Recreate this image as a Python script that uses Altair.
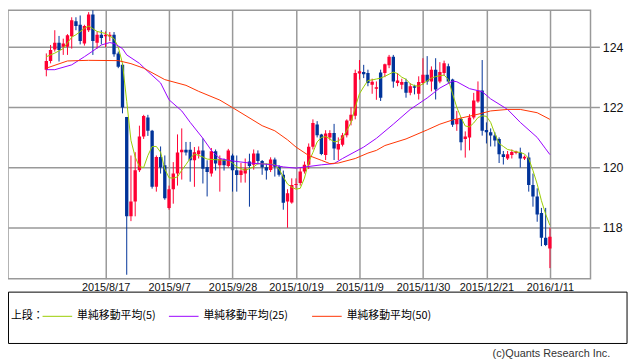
import altair as alt
import pandas as pd

# ---------------- data ----------------
opens = [123.25,123.54,123.92,124.14,124.01,124.01,124.36,124.86,124.74,124.12,
         124.56,125.08,124.14,124.41,124.36,124.35,124.41,123.79,123.41,121.68,
         118.38,118.87,119.91,121.03,121.66,121.22,119.36,120.35,120.08,118.66,
         119.28,119.80,120.51,120.59,120.59,120.24,120.44,120.57,120.02,119.80,
         120.54,120.08,120.26,120.05,120.40,119.91,119.75,119.80,120.20,120.09,
         120.47,120.22,120.01,119.92,120.27,120.03,119.76,118.87,118.84,119.42,
         119.49,119.87,120.09,120.69,121.43,121.10,120.42,121.00,121.15,120.60,
         120.76,121.07,121.55,121.72,123.12,123.17,123.14,122.75,122.62,123.16,
         123.14,123.40,123.68,122.81,122.75,122.84,122.48,122.70,122.45,122.81,
         123.08,122.86,123.25,122.86,123.14,123.36,122.92,121.44,121.61,120.95,
         121.00,121.66,122.19,122.56,121.25,121.17,121.06,120.95,120.44,120.30,
         120.42,120.48,120.50,120.30,120.33,119.42,119.04,118.49,117.67,117.31]
highs = [123.79,124.07,124.56,124.37,124.28,124.43,124.99,124.99,125.05,124.74,
         125.16,125.29,124.52,124.56,124.52,124.50,124.50,123.85,123.46,121.68,
         120.40,120.51,121.39,121.75,121.75,121.25,120.40,120.70,120.40,119.40,
         120.18,121.10,121.30,120.85,120.85,120.68,120.70,120.97,120.24,120.65,
         120.60,120.40,120.30,120.62,120.46,120.40,120.15,120.30,120.46,120.60,
         120.57,120.25,120.13,120.34,120.33,120.08,119.90,119.28,119.64,119.64,
         119.98,120.20,120.80,121.60,121.54,121.12,121.24,121.24,121.45,121.00,
         121.15,121.60,122.00,123.25,123.57,123.41,123.25,122.95,122.86,123.25,
         123.45,123.74,123.74,123.14,122.95,122.95,122.80,122.75,123.03,123.63,
         123.70,123.36,123.63,123.50,123.55,123.45,122.95,121.88,121.66,121.20,
         121.77,122.48,122.86,123.57,121.50,121.30,121.17,121.00,120.55,120.55,
         120.60,120.56,120.66,120.40,120.50,119.80,119.31,118.66,118.66,118.00]
lows = [123.03,123.46,123.85,123.52,123.74,123.74,123.95,124.56,124.09,124.05,
        124.50,123.74,123.95,124.09,124.00,124.20,123.68,123.30,121.80,116.44,
        118.22,118.38,119.85,120.95,121.05,119.30,119.20,119.80,118.93,118.60,
        118.80,119.40,119.60,120.40,119.53,119.36,120.30,119.47,119.04,119.70,
        119.90,119.20,119.90,120.00,119.20,119.20,119.50,119.50,118.70,119.93,
        120.10,119.76,119.60,119.85,119.70,119.70,118.60,118.00,118.80,119.30,
        119.40,119.80,119.95,120.60,121.00,120.41,120.25,120.90,120.25,120.25,
        120.70,121.00,121.40,121.60,122.92,122.97,122.70,122.45,122.25,122.21,
        123.00,123.30,122.65,122.70,122.60,122.32,122.40,122.43,122.26,122.75,
        122.75,122.53,122.26,122.80,123.05,122.80,121.35,121.22,120.57,120.33,
        120.57,121.60,122.15,121.06,120.80,120.70,120.70,120.15,120.10,120.25,
        120.30,120.44,120.00,120.25,119.20,118.70,118.20,117.39,117.39,116.66]
closes = [123.54,123.90,124.14,123.90,124.12,124.39,124.89,124.70,124.20,124.70,
          125.08,124.20,124.41,124.30,124.41,124.41,123.76,123.35,121.99,118.38,
          118.87,119.91,121.03,121.71,121.22,119.36,120.35,120.00,118.98,119.28,
          119.80,120.50,120.59,120.50,120.24,120.51,120.57,119.96,119.85,120.54,
          120.13,120.29,120.08,120.57,119.91,119.75,119.90,119.97,120.05,120.47,
          120.22,120.01,119.90,120.27,120.03,119.76,118.83,119.15,119.42,119.45,
          119.87,120.09,120.69,121.48,121.07,120.45,121.13,121.15,120.63,120.78,
          121.07,121.56,121.75,123.14,123.20,123.10,122.81,122.85,122.67,122.32,
          123.43,123.68,122.86,122.89,122.84,122.48,122.70,122.65,122.84,123.08,
          122.86,123.25,122.59,123.17,123.46,122.86,121.42,121.61,120.84,121.03,
          121.66,122.23,122.56,121.22,121.17,121.06,120.90,120.44,120.35,120.44,
          120.52,120.53,120.30,120.36,119.42,119.04,118.44,117.67,117.43,117.70]

ma5_idx = [0,2,4,6,7,9,10,11,12,14,15,16,17,18,19,20,21,22,23,24,25,26,27,28,29,30,31,32,33,34,
           35,36,37,38,40,43,44,45,47,49,50,52,54,55,56,57,58,59,60,61,62,63,64,65,66,67,68,69,70,71,
           72,73,74,75,76,77,78,79,80,81,82,83,84,85,86,87,88,89,90,91,92,93,94,95,96,97,98,99,100,101,
           102,103,104,105,106,107,108,109,110,111,112,113,114,115,116,117,118,119]
ma5_val = [123.68,123.80,123.95,124.33,124.41,124.62,124.70,124.61,124.52,124.45,124.36,124.28,124.00,123.45,122.20,120.90,120.35,120.03,120.00,120.40,
           120.70,120.70,120.51,119.95,119.66,119.65,119.69,119.91,120.10,120.30,120.45,120.40,120.35,120.28,120.26,120.24,120.15,120.02,119.91,120.02,
           120.13,120.12,120.10,119.95,119.69,119.45,119.35,119.28,119.31,119.65,120.18,120.50,120.85,121.00,121.03,120.95,120.85,120.88,121.00,121.22,
           121.50,122.00,122.45,122.68,122.89,122.91,122.94,122.97,123.03,123.10,123.17,123.12,123.00,122.93,122.78,122.72,122.70,122.78,122.88,122.97,
           123.02,123.05,123.07,122.92,122.45,122.00,121.66,121.38,121.35,121.48,121.66,121.72,121.70,121.50,121.12,120.80,120.70,120.60,120.57,120.52,
           120.50,120.45,120.30,119.90,119.45,118.90,118.45,118.08]

ma25_idx = [0,2,6,9,11,13,15,16,18,19,22,24,27,29,32,34,37,39,41,43,45,48,53,56,59,65,68,70,75,78,
            82,86,90,93,96,97,100,103,105,109,112,116,118,119]
ma25_val = [123.25,123.25,123.41,123.68,123.87,124.07,124.15,124.12,123.95,123.74,123.46,123.19,122.81,122.25,121.88,121.50,120.97,120.57,120.30,120.24,
            120.20,120.15,120.10,120.02,119.98,120.09,120.13,120.30,120.68,120.97,121.44,121.93,122.31,122.64,122.87,122.85,122.62,122.52,122.28,121.93,
            121.50,121.00,120.62,120.43]

ma50_idx = [0,5,10,17,20,23,28,33,36,41,44,51,54,57,59,62,65,67,69,73,76,78,80,85,90,93,96,102,105,109,112,116,119]
ma50_val = [123.30,123.54,123.56,123.55,123.45,123.30,122.92,122.73,122.53,122.24,121.99,121.39,121.22,120.92,120.68,120.40,120.24,120.13,120.15,120.30,
            120.48,120.57,120.73,120.95,121.25,121.44,121.58,121.77,121.88,121.93,121.93,121.82,121.60]

tick_idx = [14, 29, 44, 59, 74, 89, 104, 119]
tick_labels = ["2015/8/17", "2015/9/7", "2015/9/28", "2015/10/19",
               "2015/11/9", "2015/11/30", "2015/12/21", "2016/1/11"]
y_ticks = [118, 120, 122, 124]

legend_head = "上段："
legend_labels = ["単純移動平均(5)", "単純移動平均(25)", "単純移動平均(50)"]
credit = "(c)Quants Research Inc."

# ---------------- styling ----------------
RED, BLUE = "#FF0033", "#003399"
GREEN, PURPLE, ORANGE = "#99CC00", "#9900FF", "#FF3300"
GRID = "#999999"
W, H = 590, 272

df = pd.DataFrame({"i": list(range(len(opens))), "open": opens, "high": highs,
                   "low": lows, "close": closes})

xscale = alt.Scale(domain=[-7.89, 127.43], nice=False, zero=False)
yscale = alt.Scale(domain=[116.305, 125.223], nice=False, zero=False)

label_expr = ("[" + ",".join("'%s'" % s for s in tick_labels) + "][indexof(["
              + ",".join(str(v) for v in tick_idx) + "], datum.value)]")

xaxis = alt.Axis(values=tick_idx, labelExpr=label_expr, grid=True, gridColor=GRID,
                 gridWidth=1.5, ticks=False, domain=False, labelFont="Liberation Sans",
                 labelFontSize=11, labelColor="#111111", labelPadding=3, labelFlush=False,
                 title=None)
yaxis = alt.Axis(orient="right", values=y_ticks, grid=True, gridColor=GRID, gridWidth=1.5,
                 tickColor=GRID, tickSize=9, tickWidth=1.5, domain=False,
                 labelFont="Liberation Sans", labelFontSize=12.5, labelColor="#111111",
                 labelPadding=3, title=None)

color = alt.condition("datum.close >= datum.open", alt.value(RED), alt.value(BLUE))

base = alt.Chart(df)
wick = base.mark_rule(strokeWidth=1, clip=True).encode(
    x=alt.X("i:Q", scale=xscale, axis=xaxis, title=None),
    y=alt.Y("low:Q", scale=yscale, axis=yaxis, title=None),
    y2="high:Q", color=color)
body = base.mark_bar(size=3.4, clip=True).encode(
    x=alt.X("i:Q", title=None), y=alt.Y("open:Q", title=None), y2="close:Q", color=color)

def ma_line(idx, vals, col):
    d = pd.DataFrame({"i": idx, "v": vals})
    return alt.Chart(d).mark_line(color=col, strokeWidth=1).encode(
        x=alt.X("i:Q", title=None), y=alt.Y("v:Q", title=None))

l5 = ma_line(ma5_idx, ma5_val, GREEN)
l25 = ma_line(ma25_idx, ma25_val, PURPLE)
l50 = ma_line(ma50_idx, ma50_val, ORANGE)

# ---------------- legend panel (layout only) ----------------
one = pd.DataFrame({"k": [0]})
box = alt.Chart(one).mark_rect(fill="white", stroke="#000000", strokeWidth=1).encode(
    x=alt.value(0.5), x2=alt.value(627), y=alt.value(285.5), y2=alt.value(337.5))
LEG_Y = 310
head = alt.Chart(one).mark_text(align="left", baseline="middle", font="Noto Sans CJK JP",
                                fontSize=11, color="#000").encode(
    x=alt.value(3), y=alt.value(LEG_Y), text=alt.value(legend_head))
layers = [box, head]
line_x = [35, 163, 308]
for lab, col, lx in zip(legend_labels, [GREEN, PURPLE, ORANGE], line_x):
    layers.append(alt.Chart(one).mark_rule(color=col, strokeWidth=1).encode(
        x=alt.value(lx), x2=alt.value(lx + 30), y=alt.value(LEG_Y)))
    layers.append(alt.Chart(one).mark_text(align="left", baseline="middle",
                                           font="Noto Sans CJK JP", fontSize=11,
                                           color="#000").encode(
        x=alt.value(lx + 35), y=alt.value(LEG_Y), text=alt.value(lab)))
cred = alt.Chart(one).mark_text(align="right", baseline="middle", font="Liberation Sans",
                                fontSize=11, color="#333333").encode(
    x=alt.value(610), y=alt.value(348), text=alt.value(credit))
layers.append(cred)

chart = alt.layer(wick, body, l5, l25, l50, *layers).properties(
    width=W, height=H,
    autosize=alt.AutoSizeParams(type="none"),
    padding={"left": 0, "top": 0, "right": 40, "bottom": 84}
).configure_view(stroke=GRID, strokeWidth=1.5)

chart.save("out.html", embed_options={"renderer": "svg", "actions": False})
